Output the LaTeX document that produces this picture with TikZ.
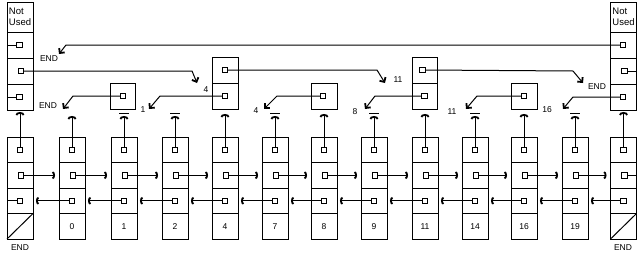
\documentclass[tikz,border=0pt]{standalone}
\usepackage{fontspec}
\setmainfont{Liberation Sans}
\usetikzlibrary{arrows.meta}
\begin{document}
\begin{tikzpicture}[x=1pt,y=-1pt, line width=1pt,
  cell/.style={draw, line width=1pt, minimum width=26pt, minimum height=25.5pt, inner sep=0pt, outer sep=0pt, font=\fontsize{8.5}{9}\selectfont},
  ucell/.style={cell, minimum height=26pt},
  sq/.style={draw, line width=1pt, minimum size=5.5pt, inner sep=0pt, outer sep=0pt},
  lbl/.style={inner sep=0pt, font=\fontsize{8.5}{9}\selectfont},
  hptr/.style={-{Arc Barb[length=2.5pt,width=8pt,line width=1.8pt]}},
  uptr/.style={-{Arc Barb[length=3pt,width=9pt,line width=1.8pt]}},
  dptr/.style={-{Straight Barb[length=3.5pt,width=7pt,line width=1.8pt]}}
]
\fill[white] (0,0) rectangle (644,260);
\useasboundingbox (0,0) rectangle (644,260);

% ---------- bottom level columns ----------
\foreach \i/\x/\k/\t in {0/20//112,1/72/0/116,2/124/1/116,3/175/2/116,4/225/4/114,5/275/7/116,6/324/8/114,7/374/9/116,8/425/11/114,9/475/14/116,10/524/16/114,11/575/19/116,12/623.5//112} {
  \node[cell] (c\i-a) at (\x,149.75) {};
  \node[cell] (c\i-b) at (\x,175.25) {};
  \node[cell] (c\i-c) at (\x,200.75) {};
  \node[cell] (c\i-d) at (\x,226.25) {\k};
  \node[sq] (s\i-a) at (c\i-a) {};
  \node[sq] (s\i-b) at ([xshift=1pt]c\i-b.center) {};
  \node[sq] (s\i-c) at (c\i-c) {};
  \coordinate (u\i) at (\x,\t);
  \draw[uptr] (s\i-a.north) -- (u\i);
}
% null bars over up arrows
\foreach \i in {2,3,5,7,9,11} {
  \draw ([xshift=-5pt,yshift=3pt]u\i) -- ([xshift=5pt,yshift=3pt]u\i);
}
% next / prev pointers
\foreach \i [evaluate=\i as \j using int(\i+1)] in {0,...,11} {
  \draw[hptr] (s\i-b.east) -- ([xshift=-4pt]c\j-b.west);
  \draw[hptr] (s\j-c.west) -- ([xshift=3pt]c\i-c.east);
}
\draw (c0-c.west) -- (s0-c.west);
\draw (s12-b.east) -- (c12-b.east);
\draw (c0-d.south west) -- (c0-d.north east);
\draw (c12-d.south west) -- (c12-d.north east);
\node[lbl] (endh) at (20,248) {END};
\node[lbl] (endt) at (623,248) {END};

% ---------- head and tail upper columns ----------
\node[cell, minimum height=30pt, align=left, font=\fontsize{9.5}{11}\selectfont] (h0) at (20,17) {Not\\Used};
\node[ucell] (h1) at (20,45) {};
\node[ucell] (h2) at (20,71) {};
\node[ucell] (h3) at (20,97) {};
\node[sq] (sh1) at (19.5,45) {};
\node[sq] (sh2) at (21,71) {};
\node[sq] (sh3) at (19.5,97) {};
\draw (h1.west) -- (sh1.west);
\draw (h3.west) -- (sh3.west);

\node[cell, minimum height=30pt, align=left, font=\fontsize{9.5}{11}\selectfont] (t0) at (623.5,17) {Not\\Used};
\node[ucell] (t1) at (623.5,45) {};
\node[ucell] (t2) at (623.5,71) {};
\node[ucell] (t3) at (623.5,97) {};
\node[sq] (st1) at (623,45) {};
\node[sq] (st2) at (624.5,71) {};
\node[sq] (st3) at (623,97) {};
\draw (st2.east) -- (t2.east);

% ---------- upper nodes ----------
\node[ucell, minimum width=25pt] (b1) at (123,96) {};
\node[sq] (sb1) at (b1) {};
\node[ucell] (b4a) at (225,70) {};
\node[ucell] (b4b) at (225,96) {};
\node[sq] (sb4a) at (b4a) {};
\node[sq] (sb4b) at (b4b) {};
\node[ucell] (b8) at (324,96) {};
\node[sq] (sb8) at ([xshift=-1pt]b8.center) {};
\node[ucell, minimum width=25pt] (b11a) at (424.5,70) {};
\node[ucell, minimum width=25pt] (b11b) at (424.5,96) {};
\node[sq] (sb11a) at ([xshift=-2pt]b11a.center) {};
\node[sq] (sb11b) at (b11b) {};
\node[ucell] (b16) at (524,96) {};
\node[sq] (sb16) at (b16) {};

% ---------- upper pointers ----------
\coordinate (k1) at (66,45);   \coordinate (p1) at (59,54);
\coordinate (k2) at (192,71);  \coordinate (p2) at (197,83);
\coordinate (k3) at (377,70);  \coordinate (p3) at (385,83);
\coordinate (k4) at (160,96);  \coordinate (p4) at (149,109);
\coordinate (k5) at (73,96);   \coordinate (p5) at (63,109);
\coordinate (k6) at (277,96);  \coordinate (p6) at (264,109);
\coordinate (k7) at (573,71);  \coordinate (p7) at (583,83);
\coordinate (k8) at (375,96);  \coordinate (p8) at (365,109);
\coordinate (k9) at (477,96);  \coordinate (p9) at (466,109);
\coordinate (k10) at (573,97); \coordinate (p10) at (563,109);

\draw[dptr] (st1.west) -- (k1) -- (p1);
\draw[dptr] (sh2.east) -- (k2) -- (p2);
\draw[dptr] (sb4a.east) -- (k3) -- (p3);
\draw[dptr] (sb4b.west) -- (k4) -- (p4);
\draw[dptr] (sb1.west) -- (k5) -- (p5);
\draw[dptr] (sb8.west) -- (k6) -- (p6);
\draw[dptr] (sb11a.east) -- (k7) -- (p7);
\draw[dptr] (sb11b.west) -- (k8) -- (p8);
\draw[dptr] (sb16.west) -- (k9) -- (p9);
\draw[dptr] (st3.west) -- (k10) -- (p10);

\node[lbl] (l1) at (49,59) {END};
\node[lbl] (l2) at (206,90) {4};
\node[lbl] (l3) at (398,80) {11};
\node[lbl] (l4) at (143,110) {1};
\node[lbl] (l5) at (48,106) {END};
\node[lbl] (l6) at (256,111) {4};
\node[lbl] (l7) at (597,87) {END};
\node[lbl] (l8) at (355,112) {8};
\node[lbl] (l9) at (452,112) {11};
\node[lbl] (l10) at (547,110) {16};
\end{tikzpicture}
\end{document}
